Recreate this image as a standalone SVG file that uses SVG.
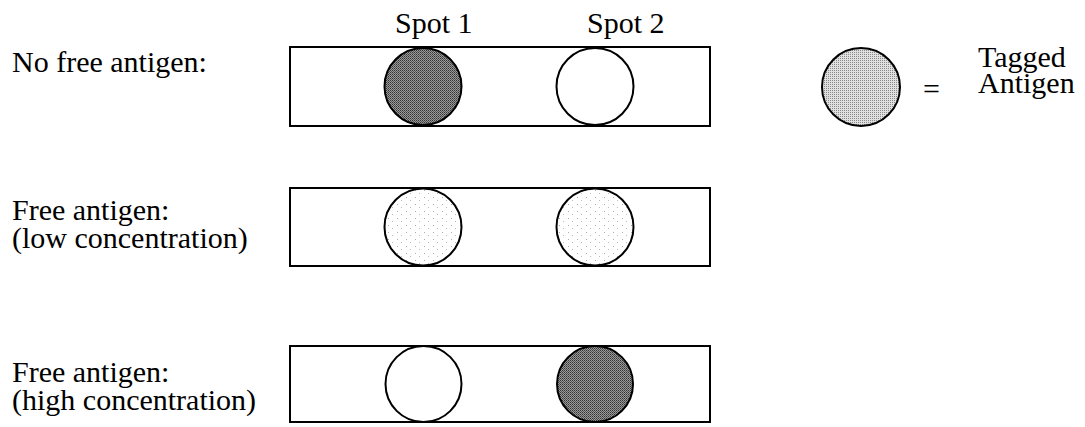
<svg xmlns="http://www.w3.org/2000/svg" width="1085" height="427" viewBox="0 0 1085 427">
  <style>
    .strip { fill: #fff; stroke: #000; stroke-width: 2; }
    .spot { stroke: #000; stroke-width: 2; }
    .empty { fill: #fff; }
    .dark { fill: url(#darkDots); }
    .light { fill: url(#lightDots); }
    .tagged { fill: url(#midDots); }
  </style>
  <defs>
    <pattern id="darkDots" width="2" height="2" patternUnits="userSpaceOnUse">
      <rect width="2" height="2" fill="#9a9a9a"/>
      <rect width="1" height="1" fill="#333"/>
      <rect x="1" y="1" width="1" height="1" fill="#555"/>
    </pattern>
    <pattern id="midDots" width="2" height="2" patternUnits="userSpaceOnUse">
      <rect width="2" height="2" fill="#e0e0e0"/>
      <rect width="1" height="1" fill="#888"/>
    </pattern>
    <pattern id="lightDots" width="9" height="7" patternUnits="userSpaceOnUse">
      <rect width="9" height="7" fill="#fff"/>
      <rect x="1" y="1" width="1" height="1" fill="#aaa"/>
      <rect x="5" y="4" width="1" height="1" fill="#bbb"/>
    </pattern>
  </defs>

  <g font-family="Liberation Serif, DejaVu Serif, serif" font-size="30" fill="#000">
    <g id="spot-labels">
      <text x="395" y="33">Spot 1</text>
      <text x="587" y="33">Spot 2</text>
    </g>

    <g id="row-no-free">
      <text x="12" y="72">No free antigen:</text>
      <rect class="strip" x="290" y="47" width="420" height="79"/>
      <circle class="spot dark" cx="423" cy="86.5" r="38.5"/>
      <circle class="spot empty" cx="595" cy="86.5" r="38.5"/>
    </g>

    <g id="row-low">
      <text x="12" y="220">Free antigen:</text>
      <text x="12" y="248">(low concentration)</text>
      <rect class="strip" x="290" y="188" width="420" height="78"/>
      <circle class="spot light" cx="423" cy="227" r="38.5"/>
      <circle class="spot light" cx="595" cy="227" r="38.5"/>
    </g>

    <g id="row-high">
      <text x="12" y="382">Free antigen:</text>
      <text x="12" y="410">(high concentration)</text>
      <rect class="strip" x="290" y="346" width="420" height="76"/>
      <circle class="spot empty" cx="423.5" cy="384" r="38"/>
      <circle class="spot dark" cx="595" cy="384" r="38"/>
    </g>

    <g id="legend">
      <circle class="spot tagged" cx="861" cy="87" r="39"/>
      <text x="923" y="99">=</text>
      <text x="978" y="67">Tagged</text>
      <text x="978" y="93">Antigen</text>
    </g>
  </g>

  <g id="connectors"></g>
</svg>
